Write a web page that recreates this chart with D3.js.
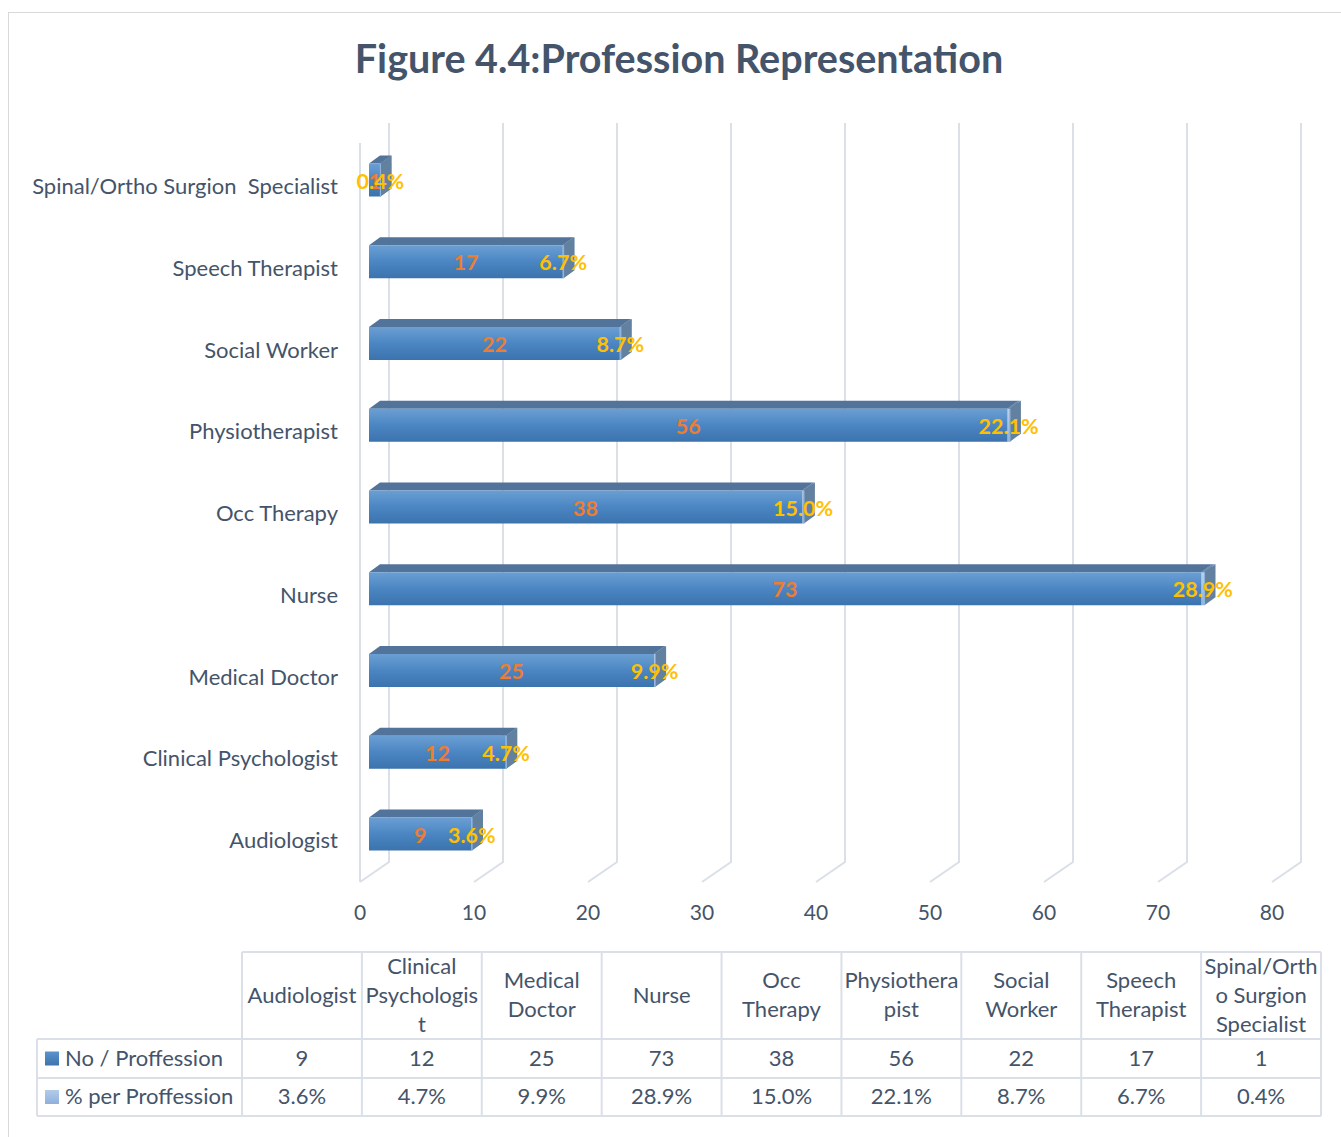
<!DOCTYPE html>
<html>
<head>
<meta charset="utf-8">
<title>Profession Representation</title>
<script src="https://cdn.jsdelivr.net/npm/d3@7"></script>
<style>
  body { margin: 0; background: #fff; }
  text { font-family: Lato, "Open Sans", "Noto Sans", sans-serif; }
</style>
</head>
<body>
<svg id="chart" width="1341" height="1137"></svg>
<script>
// ---- data ----
const categories = [
  "Audiologist", "Clinical Psychologist", "Medical Doctor", "Nurse", "Occ Therapy",
  "Physiotherapist", "Social Worker", "Speech Therapist", "Spinal/Ortho Surgion  Specialist"
];
// column headings of the data table, wrapped as they appear in the cells
const headerLines = [
  ["Audiologist"], ["Clinical", "Psychologis", "t"], ["Medical", "Doctor"], ["Nurse"],
  ["Occ", "Therapy"], ["Physiothera", "pist"], ["Social", "Worker"],
  ["Speech", "Therapist"], ["Spinal/Orth", "o Surgion", "Specialist"]
];
const counts = [9, 12, 25, 73, 38, 56, 22, 17, 1];
const shares = [0.036, 0.047, 0.099, 0.289, 0.150, 0.221, 0.087, 0.067, 0.004];
const seriesNames = ["No / Proffession", "% per Proffession"];
const xTicks = [0, 10, 20, 30, 40, 50, 60, 70, 80];
const titleText = "Figure 4.4:Profession Representation";

// ---- layout ----
const textColor = "#44546a";
const gridColor = "#dadfe8";
const frontX = 360, backX = 389;          // front / back plane origins
const floorFront = 882, floorBack = 862, wallTop = 123;
const barX = 369;                         // front face origin of bars
const depthDx = 11, depthDy = -8;         // bar depth
const barH = 33;
const fs = 22;                            // body text size

const svg = d3.select("#chart");
const defs = svg.append("defs");

function vGrad(id, stops) {
  const g = defs.append("linearGradient").attr("id", id)
    .attr("x1", 0).attr("y1", 0).attr("x2", 0).attr("y2", 1);
  stops.forEach(([o, c]) => g.append("stop").attr("offset", o).attr("stop-color", c));
}
vGrad("frontNo", [["0%", "#6b9fd3"], ["50%", "#4b86c3"], ["100%", "#3b73ad"]]);
vGrad("frontPct", [["0%", "#bcd2ec"], ["100%", "#92b3dc"]]);
vGrad("keyNo", [["0%", "#5b93cd"], ["100%", "#3c74ae"]]);
vGrad("keyPct", [["0%", "#b3cbe9"], ["100%", "#8fb0da"]]);

// chart area border
svg.append("rect")
  .attr("x", 8.5).attr("y", 12.5).attr("width", 1400).attr("height", 1200)
  .attr("fill", "none").attr("stroke", "#d9d9d9").attr("stroke-width", 1);

// title
svg.append("text")
  .attr("x", 679).attr("y", 73)
  .attr("text-anchor", "middle")
  .attr("font-size", 39.5).attr("font-weight", 700)
  .attr("fill", textColor)
  .text(titleText);

// ---- scales ----
const x = d3.scaleLinear().domain([0, 80]).range([0, 912]);
const y = d3.scalePoint().domain(categories).range([841, 187]);

// ---- walls / gridlines ----
const grid = svg.append("g").attr("fill", "none").attr("stroke", gridColor).attr("stroke-width", 2);
grid.append("line")
  .attr("x1", frontX).attr("x2", frontX)
  .attr("y1", wallTop + (floorFront - floorBack)).attr("y2", floorFront);
grid.selectAll("path.grid").data(xTicks).join("path")
  .attr("class", "grid")
  .attr("d", v => `M${backX + x(v)},${wallTop}V${floorBack}L${frontX + x(v)},${floorFront}`);

// value axis labels
svg.append("g").selectAll("text").data(xTicks).join("text")
  .attr("x", v => frontX + x(v)).attr("y", 920)
  .attr("text-anchor", "middle").attr("font-size", 21)
  .attr("fill", textColor)
  .text(v => v);

// category axis labels
svg.append("g").selectAll("text").data(categories).join("text")
  .attr("x", 338).attr("y", c => y(c) + 7)
  .attr("text-anchor", "end").attr("font-size", fs)
  .attr("fill", textColor)
  .style("white-space", "pre")
  .text(c => c);

// ---- stacked 3-D bars ----
const rows = categories.map((c, i) => ({ cat: c, n: counts[i], p: shares[i] }));
const stacked = d3.stack().keys(["n", "p"])(rows);
const faceStyle = {
  n: { front: "url(#frontNo)", top: "#52739a", side: "#5e7b9c" },
  p: { front: "url(#frontPct)", top: "#6f8db0", side: "#62809f" }
};

const bars = svg.append("g");
stacked.forEach(layer => {
  const st = faceStyle[layer.key];
  layer.forEach(seg => {
    const c = seg.data.cat;
    const x0 = barX + x(seg[0]), x1 = barX + x(seg[1]);
    const t = y(c) - 23.5, b = t + barH;
    const g = bars.append("g");
    // top face
    g.append("path")
      .attr("d", `M${x0},${t}L${x0 + depthDx},${t + depthDy}L${x1 + depthDx},${t + depthDy}L${x1},${t}Z`)
      .attr("fill", st.top);
    // front face
    g.append("rect")
      .attr("x", x0).attr("y", t).attr("width", Math.max(0, x1 - x0)).attr("height", barH)
      .attr("fill", st.front);
    // end face
    g.append("path")
      .attr("d", `M${x1},${t}L${x1 + depthDx},${t + depthDy}L${x1 + depthDx},${b + depthDy}L${x1},${b}Z`)
      .attr("fill", st.side);
    if (layer.key === "p") {
      g.append("line")
        .attr("x1", x1).attr("x2", x1).attr("y1", t).attr("y2", b)
        .attr("stroke", "#8fb4dc").attr("stroke-width", 1.2);
    }
  });
});

// data labels
const labels = svg.append("g").attr("font-size", 21.5).attr("font-weight", 700).attr("text-anchor", "middle");
labels.selectAll("text.cnt").data(stacked[0]).join("text")
  .attr("class", "cnt")
  .attr("x", d => barX + x((d[0] + d[1]) / 2))
  .attr("y", d => y(d.data.cat) + 1.5)
  .attr("fill", "#ed7d31")
  .text(d => d.data.n);
labels.selectAll("text.pct").data(stacked[1]).join("text")
  .attr("class", "pct")
  .attr("x", d => barX + x((d[0] + d[1]) / 2))
  .attr("y", d => y(d.data.cat) + 1.5)
  .attr("fill", "#ffc000")
  .text(d => d3.format(".1%")(d.data.p));

// ---- data table ----
const colX = d3.scaleBand().domain(categories).range([242, 1321]);
const hdrTop = 952, hdrBot = 1039, row1Bot = 1078, row2Bot = 1116;
const legL = 37;
const table = svg.append("g");
const border = table.append("g").attr("stroke", gridColor).attr("stroke-width", 2).attr("fill", "none");

// horizontal rules
border.append("line").attr("x1", 242).attr("x2", 1321).attr("y1", hdrTop).attr("y2", hdrTop);
[hdrBot, row1Bot, row2Bot].forEach(yy =>
  border.append("line").attr("x1", legL).attr("x2", 1321).attr("y1", yy).attr("y2", yy));
// vertical rules
border.append("line").attr("x1", legL).attr("x2", legL).attr("y1", hdrBot).attr("y2", row2Bot);
categories.forEach(c =>
  border.append("line").attr("x1", colX(c)).attr("x2", colX(c)).attr("y1", hdrTop).attr("y2", row2Bot));
border.append("line").attr("x1", 1321).attr("x2", 1321).attr("y1", hdrTop).attr("y2", row2Bot);

// header cells
const hdrMid = (hdrTop + hdrBot) / 2;
categories.forEach((c, i) => {
  const lines = headerLines[i];
  lines.forEach((ln, j) => {
    table.append("text")
      .attr("x", colX(c) + colX.bandwidth() / 2)
      .attr("y", hdrMid + (j - (lines.length - 1) / 2) * 29 + 7)
      .attr("text-anchor", "middle").attr("font-size", fs)
      .attr("fill", textColor)
      .text(ln);
  });
});

// value rows
const rowMid = [(hdrBot + row1Bot) / 2, (row1Bot + row2Bot) / 2];
const rowVals = [counts.map(v => String(v)), shares.map(v => d3.format(".1%")(v))];
rowVals.forEach((vals, r) => {
  table.append("g").selectAll("text").data(categories).join("text")
    .attr("x", c => colX(c) + colX.bandwidth() / 2)
    .attr("y", rowMid[r] + 7)
    .attr("text-anchor", "middle").attr("font-size", fs)
    .attr("fill", textColor)
    .text((c, i) => vals[i]);
});

// legend keys in the table
const keyFills = ["url(#keyNo)", "url(#keyPct)"];
seriesNames.forEach((name, r) => {
  table.append("rect")
    .attr("x", 45).attr("y", rowMid[r] - 7).attr("width", 14).attr("height", 14)
    .attr("fill", keyFills[r]);
  table.append("text")
    .attr("x", 65).attr("y", rowMid[r] + 7)
    .attr("font-size", fs).attr("fill", textColor)
    .text(name);
});
</script>
</body>
</html>
